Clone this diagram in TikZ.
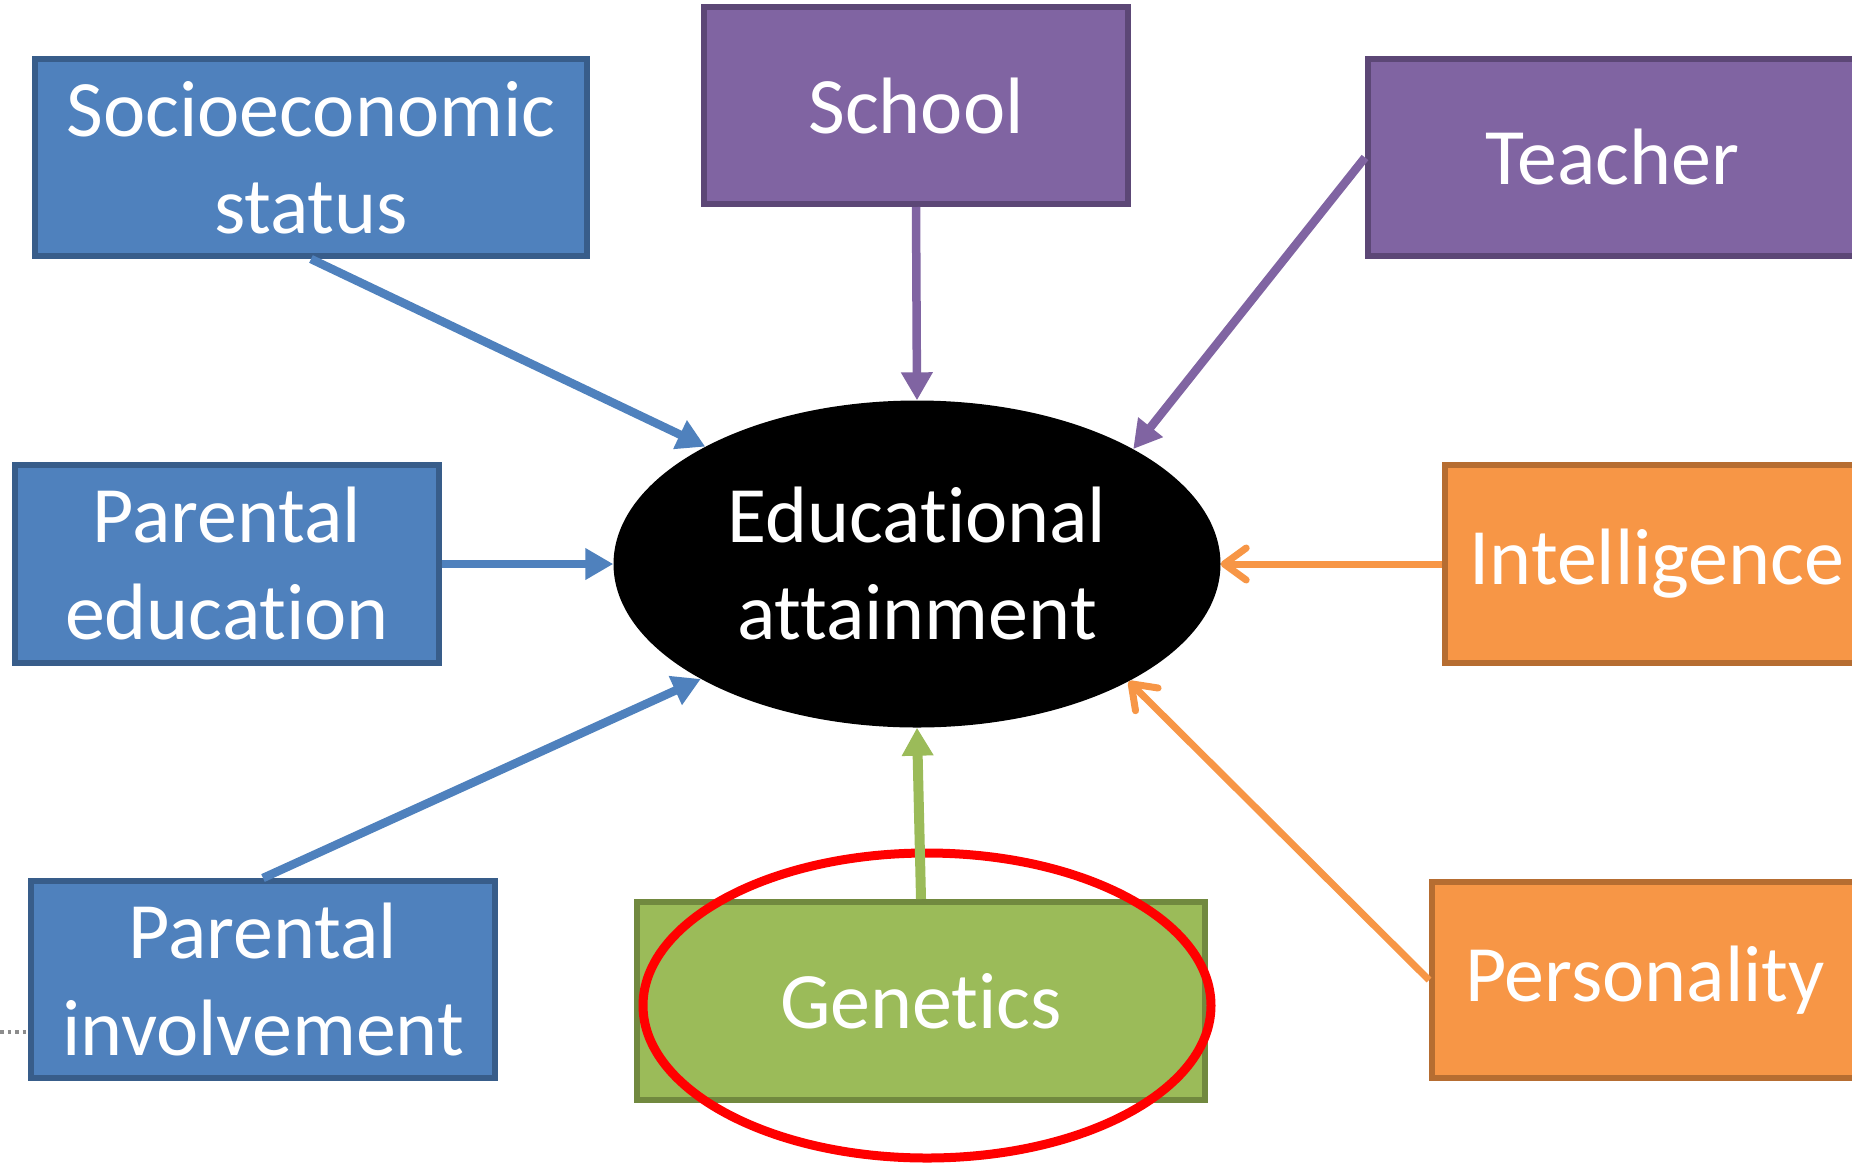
\documentclass[tikz,border=0pt]{standalone}
\usepackage{fontspec}
\setmainfont{Carlito}[Ligatures={NoCommon}]
\usetikzlibrary{shapes.geometric,arrows.meta}

\definecolor{blueFill}{HTML}{4F81BD}
\definecolor{blueLine}{HTML}{385D8A}
\definecolor{purpleFill}{HTML}{8064A2}
\definecolor{purpleLine}{HTML}{5C4776}
\definecolor{orangeFill}{HTML}{F79646}
\definecolor{orangeLine}{HTML}{B66D31}
\definecolor{greenFill}{HTML}{9BBB59}
\definecolor{greenLine}{HTML}{71893F}
\definecolor{dotGray}{HTML}{8C8C8C}

\begin{document}
\begin{tikzpicture}[x=1pt,y=-1pt,
  bigtext/.style={text=white, align=center, font=\fontsize{80}{97}\selectfont},
  factor/.style={rectangle, line width=6pt, inner sep=0pt, bigtext},
  bluebox/.style={factor, fill=blueFill, draw=blueLine},
  purplebox/.style={factor, fill=purpleFill, draw=purpleLine},
  orangebox/.style={factor, fill=orangeFill, draw=orangeLine},
  greenbox/.style={factor, fill=greenFill, draw=greenLine},
  solidarrow/.style={line width=8.5pt, -{Triangle[length=28pt,width=30pt]}},
  openarrow/.style={line width=7pt, draw=orangeFill, -{Straight Barb[length=22pt,width=32pt,round]}}
]
\path[use as bounding box] (0,0) rectangle (1852,1163);
\clip (0,0) rectangle (1852,1163);

% central outcome
\node[ellipse, fill=black, minimum width=607pt, minimum height=327pt, inner sep=0pt, bigtext]
  (ea) at (917,564) {Educational\\attainment};

% influencing factors
\node[bluebox, minimum width=552pt, minimum height=197pt] (ses) at (311,157.5) {Socioeconomic\\status};
\node[purplebox, minimum width=424pt, minimum height=197pt] (school) at (916,105.5) {School};
\node[purplebox, minimum width=488pt, minimum height=197pt] (teacher) at (1612,157.5) {Teacher};
\node[bluebox, minimum width=424pt, minimum height=198pt] (pedu) at (227,564) {Parental\\education};
\node[orangebox, minimum width=424pt, minimum height=198pt] (intel) at (1657,564) {Intelligence};
\node[bluebox, minimum width=464pt, minimum height=197pt] (pinv) at (263,979.5) {Parental\\involvement};
\node[greenbox, minimum width=568pt, minimum height=198pt] (gen) at (921,1001) {Genetics};
\node[orangebox, minimum width=426pt, minimum height=196pt] (pers) at (1645,980) {Personality};

% highlight ring around genetics
\node[ellipse, draw=red, line width=9pt, minimum width=568pt, minimum height=305pt, inner sep=0pt]
  (ring) at (927,1005.5) {};

% small dotted stub at the left edge
\coordinate (stubA) at (0,1032);
\coordinate (stubB) at (26,1032);
\draw[dotGray, line width=3.5pt, dash pattern=on 3.5pt off 4pt] (stubA) -- (stubB);

% connectors
\draw[solidarrow, blueFill] (ses.south) -- (ea.151.75);
\draw[solidarrow, purpleFill] (school.south) -- (ea.north);
\draw[solidarrow, purpleFill] (teacher.west) -- (ea.28.2);
\draw[solidarrow, blueFill] (pedu.east) -- (ea.west);
\draw[openarrow] (intel.west) -- (ea.east);
\draw[solidarrow, blueFill] (pinv.north) -- (ea.208.5);
\draw[solidarrow, greenFill, line width=10pt] (gen.north) -- (ea.south);
\draw[openarrow] (pers.west) -- (ea.331.15);
\end{tikzpicture}
\end{document}
